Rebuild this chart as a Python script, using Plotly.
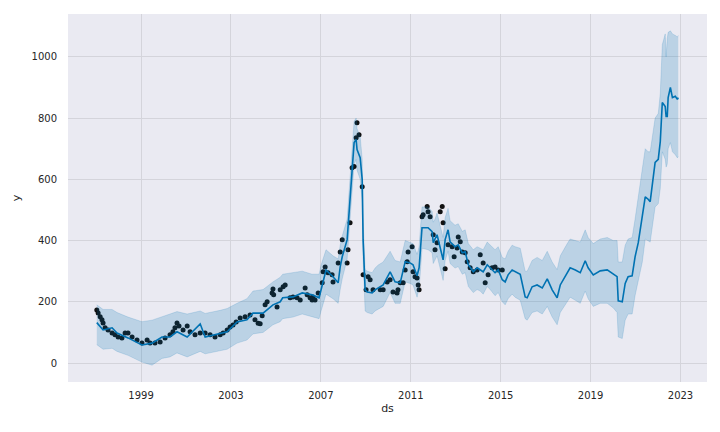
import pandas as pd
import plotly.graph_objects as go

# ---- data (decimal years) ----
fc_year = [1997.03, 1997.31, 1997.71, 1997.93, 1998.42, 1999.04, 1999.49, 1999.93, 2000.29, 2000.60,
           2001.05, 2001.63, 2001.85, 2002.52, 2002.83, 2003.27, 2003.71, 2003.98, 2004.43, 2004.87,
           2005.19, 2005.30, 2005.76, 2006.17, 2006.61, 2006.92, 2007.01, 2007.23, 2007.54, 2007.77,
           2007.86, 2007.95, 2008.17, 2008.21, 2008.30, 2008.39, 2008.48, 2008.57, 2008.61, 2008.75,
           2008.84, 2008.88, 2008.97, 2009.06, 2009.28, 2009.41, 2009.55, 2009.77, 2010.08, 2010.30,
           2010.53, 2010.75, 2010.97, 2011.10, 2011.28, 2011.33, 2011.37, 2011.42, 2011.50, 2011.77,
           2011.95, 2012.00, 2012.08, 2012.17, 2012.44, 2012.53, 2012.66, 2012.75, 2012.97, 2013.11,
           2013.29, 2013.42, 2013.56, 2013.78, 2013.95, 2014.09, 2014.22, 2014.40, 2014.53, 2014.75,
           2014.89, 2015.07, 2015.20, 2015.33, 2015.51, 2015.64, 2015.87, 2016.09, 2016.18, 2016.40,
           2016.62, 2016.85, 2017.07, 2017.29, 2017.51, 2017.65, 2017.96, 2018.09, 2018.32, 2018.54,
           2018.76, 2018.89, 2019.12, 2019.43, 2019.74, 2020.01, 2020.18, 2020.23, 2020.41, 2020.54,
           2020.67, 2020.85, 2020.98, 2021.12, 2021.21, 2021.30, 2021.43, 2021.56, 2021.65, 2021.87,
           2022.01, 2022.10, 2022.19, 2022.32, 2022.36, 2022.41, 2022.45, 2022.55, 2022.64, 2022.77,
           2022.86, 2022.90]
yhat = [132, 108, 115, 98, 82, 59, 65, 85, 85, 102,
        85, 128, 85, 98, 102, 134, 141, 163, 163, 190,
        200, 213, 216, 229, 223, 213, 239, 304, 282, 262,
        314, 347, 403, 445, 543, 642, 720, 730, 697, 671,
        599, 403, 239, 232, 229, 239, 245, 255, 298, 265,
        262, 331, 327, 321, 285, 300, 311, 360, 442, 442,
        429, 393, 403, 419, 337, 403, 435, 396, 380, 386,
        360, 363, 321, 298, 311, 304, 298, 321, 311, 295,
        304, 272, 265, 288, 304, 298, 290, 216, 213, 249,
        255, 245, 275, 239, 213, 255, 295, 311, 304, 295,
        334, 311, 288, 301, 304, 290, 282, 203, 200, 260,
        282, 285, 347, 393, 435, 468, 543, 535, 527, 655,
        665, 723, 851, 838, 805, 805, 867, 900, 867, 871,
        861, 867]
yhat_lower = [60, 45, 48, 38, 25, 3, -7, 15, 20, 33,
              20, 38, 30, 40, 45, 65, 75, 95, 100, 125,
              135, 145, 150, 160, 150, 145, 170, 225, 210, 195,
              240, 275, 340, 380, 480, 580, 650, 665, 630, 600,
              530, 340, 170, 165, 160, 170, 175, 185, 230, 195,
              195, 265, 260, 255, 215, 230, 245, 290, 375, 370,
              360, 325, 335, 350, 270, 335, 365, 325, 310, 315,
              290, 295, 250, 230, 240, 235, 225, 250, 240, 220,
              230, 200, 190, 210, 225, 215, 205, 145, 140, 165,
              170, 160, 185, 150, 125, 165, 200, 215, 205, 195,
              235, 210, 185, 195, 195, 180, 165, 85, 80, 140,
              160, 160, 220, 265, 300, 330, 405, 400, 395, 510,
              520, 570, 690, 665, 640, 650, 700, 720, 690, 680,
              670, 675]
yhat_upper = [190, 175, 175, 165, 150, 135, 140, 150, 160, 168,
              160, 170, 162, 172, 178, 195, 210, 235, 240, 265,
              280, 290, 295, 300, 290, 290, 320, 370, 350, 340,
              385, 415, 470, 510, 610, 710, 790, 800, 765, 740,
              665, 470, 305, 300, 295, 310, 320, 330, 365, 335,
              330, 400, 395, 390, 355, 370, 380, 430, 510, 510,
              495, 460, 470, 490, 410, 475, 505, 465, 450, 455,
              430, 435, 390, 370, 380, 375, 370, 395, 385, 370,
              380, 345, 340, 365, 385, 380, 375, 300, 300, 335,
              345, 335, 365, 330, 305, 350, 390, 405, 400, 395,
              435, 410, 390, 405, 410, 400, 400, 330, 330, 385,
              405, 410, 470, 540, 600, 630, 700, 690, 690, 800,
              815, 880, 1040, 1075, 1000, 1060, 1080, 1085, 1075, 1070,
              1065, 1070]

obs_year = [1997.03, 1997.09, 1997.18, 1997.26, 1997.31, 1997.40, 1997.53, 1997.71, 1997.84, 1997.98,
            1998.15, 1998.29, 1998.42, 1998.60, 1998.82, 1999.04, 1999.27, 1999.40, 1999.62, 1999.85,
            2000.07, 2000.29, 2000.42, 2000.51, 2000.60, 2000.69, 2000.87, 2001.05, 2001.18, 2001.40,
            2001.63, 2001.85, 2002.07, 2002.29, 2002.52, 2002.65, 2002.83, 2002.96, 2003.09, 2003.23,
            2003.41, 2003.63, 2003.85, 2004.07, 2004.21, 2004.30, 2004.39, 2004.52, 2004.61, 2004.83,
            2004.87, 2004.90, 2005.05, 2005.19, 2005.32, 2005.41, 2005.63, 2005.76, 2005.94, 2006.08,
            2006.30, 2006.39, 2006.52, 2006.61, 2006.65, 2006.74, 2006.88, 2007.06, 2007.10, 2007.19,
            2007.32, 2007.50, 2007.54, 2007.77, 2007.86, 2007.95, 2008.17, 2008.21, 2008.30, 2008.39,
            2008.48, 2008.57, 2008.61, 2008.70, 2008.84, 2008.88, 2009.01, 2009.10, 2009.19, 2009.32,
            2009.64, 2009.77, 2009.95, 2010.08, 2010.21, 2010.39, 2010.43, 2010.53, 2010.66, 2010.75,
            2010.84, 2010.88, 2011.06, 2011.10, 2011.19, 2011.28, 2011.33, 2011.37, 2011.50, 2011.55,
            2011.73, 2011.77, 2011.86, 2012.00, 2012.08, 2012.17, 2012.31, 2012.40, 2012.44, 2012.53,
            2012.66, 2012.84, 2012.93, 2013.06, 2013.11, 2013.20, 2013.29, 2013.42, 2013.51, 2013.64,
            2013.78, 2013.95, 2014.09, 2014.22, 2014.31, 2014.44, 2014.62, 2014.75, 2014.89, 2015.07]
obs_y = [173, 163, 151, 141, 131, 115, 108, 98, 92, 85,
         82, 98, 98, 85, 75, 65, 75, 65, 65, 69,
         82, 92, 102, 115, 131, 121, 108, 121, 102, 92,
         98, 98, 92, 85, 92, 98, 108, 118, 124, 134,
         147, 151, 157, 141, 130, 128, 154, 190, 200, 229,
         242, 223, 183, 239, 249, 255, 213, 216, 213, 206,
         245, 223, 213, 206, 216, 206, 229, 262, 298, 314,
         295, 288, 265, 327, 363, 403, 327, 370, 458, 638,
         642, 736, 785, 746, 576, 288, 239, 282, 272, 239,
         239, 239, 265, 272, 232, 229, 239, 262, 262, 304,
         331, 363, 380, 298, 282, 278, 255, 239, 478, 484,
         511, 494, 478, 419, 370, 393, 494, 511, 458, 308,
         386, 380, 347, 376, 412, 396, 363, 360, 331, 311,
         298, 304, 354, 327, 262, 288, 311, 314, 304, 304]

x_tick_years = [1999, 2003, 2007, 2011, 2015, 2019, 2023]
y_ticks = [0, 200, 400, 600, 800, 1000]


def to_dt(years):
    out = []
    for v in years:
        yr = int(v)
        frac = v - yr
        out.append(pd.Timestamp(year=yr, month=1, day=1) + pd.Timedelta(days=frac * 365.25))
    return out


fc_ds = to_dt(fc_year)
obs_ds = to_dt(obs_year)

BLUE = "#0072B2"
BAND = "rgba(0,114,178,0.2)"

fig = go.Figure()
fig.add_trace(go.Scatter(x=obs_ds, y=obs_y, mode="markers",
                         marker=dict(color="#111111", size=5, line=dict(width=0)),
                         name="Observed data points"))
fig.add_trace(go.Scatter(x=fc_ds, y=yhat, mode="lines",
                         line=dict(color=BLUE, width=1.6), name="Forecast"))
fig.add_trace(go.Scatter(x=fc_ds, y=yhat_lower, mode="lines",
                         line=dict(color=BAND, width=0.8), showlegend=False))
fig.add_trace(go.Scatter(x=fc_ds, y=yhat_upper, mode="lines", fill="tonexty",
                         fillcolor=BAND, line=dict(color=BAND, width=0.8),
                         name="Uncertainty interval"))

font = dict(family="DejaVu Sans", size=10, color="#262626")
grid = "rgb(212,212,219)"

fig.update_layout(
    width=720, height=432,
    margin=dict(l=68, r=13, t=14, b=50),
    paper_bgcolor="white", plot_bgcolor="#EAEAF2",
    showlegend=False, font=font,
    xaxis=dict(
        type="date", automargin=False,
        range=[to_dt([1995.75])[0], to_dt([2024.18])[0]],
        tickvals=[pd.Timestamp(year=y, month=1, day=1) for y in x_tick_years],
        ticktext=[str(y) for y in x_tick_years],
        showgrid=True, gridcolor=grid, gridwidth=1,
        zeroline=False, showline=False,
        ticks="outside", ticklen=4, tickcolor="rgba(0,0,0,0)",
        title=dict(text="ds", font=dict(family="DejaVu Sans", size=11, color="#262626"), standoff=4),
    ),
    yaxis=dict(
        automargin=False,
        range=[-62, 1140],
        tickvals=y_ticks,
        showgrid=True, gridcolor=grid, gridwidth=1,
        zeroline=False, showline=False,
        ticks="outside", ticklen=8, tickcolor="rgba(0,0,0,0)",
        title=dict(text="y", font=dict(family="DejaVu Sans", size=11, color="#262626"), standoff=8),
    ),
)

fig.write_html("out.html", config={"displayModeBar": False},
               post_script="document.body.style.margin='0';")
